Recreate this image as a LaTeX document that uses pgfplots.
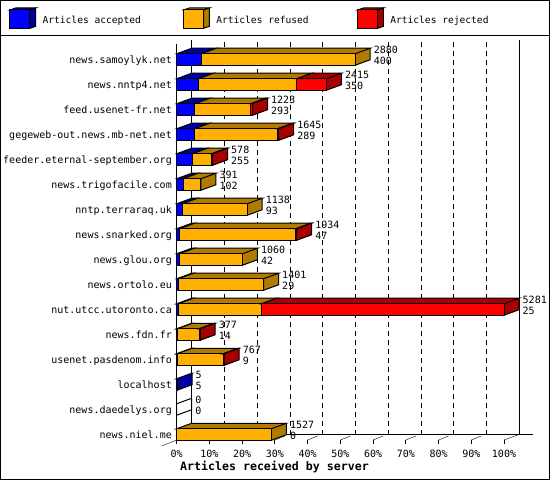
\documentclass[border=0pt]{standalone}
\usepackage{fontspec}
\setmainfont{DejaVu Sans Mono}
\usepackage{pgfplots}
\usepackage{pgfplotstable}
\pgfplotsset{compat=1.18}

\definecolor{accfront}{HTML}{0000FF}
\definecolor{accside}{HTML}{0000A0}
\definecolor{reffront}{HTML}{FFB000}
\definecolor{refside}{HTML}{B07B00}
\definecolor{rejfront}{HTML}{FF0000}
\definecolor{rejside}{HTML}{A80000}

% articles per server: accepted, refused, rejected, total offered
\pgfplotstableread{
row acc  ref  rej  total
0   400  2480 0    2880
1   350  1586 479  2415
2   293  900  30   1223
3   289  1341 15   1645
4   255  310  13   578
5   102  289  0    391
6   93   1045 0    1138
7   47   1877 10   1934
8   42   1018 0    1060
9   29   1372 0    1401
10  25   1346 3910 5281
11  14   351  12   377
12  9    743  15   767
13  5    0    0    5
14  0    0    0    0
15  0    1527 0    1527
}\servers

% one piece of a 3-d bar (front, top, right side); its length is \seglen
% articles, one article being 0.061977bp on the x axis
\newdimen\segw
\newdimen\segwd
\newcommand\declaresegment[3]{%
  \pgfdeclareplotmark{#1}{%
    \pgfmathsetlength\segw{\seglen*0.061977bp}%
    \segwd=\segw \advance\segwd by 15bp
    \pgfsetlinewidth{1bp}%
    \pgfsetstrokecolor{black}%
    \pgfsetfillcolor{#3}%
    \pgfpathmoveto{\pgfpoint{0bp}{5.75bp}}%
    \pgfpathlineto{\pgfpoint{\segw}{5.75bp}}%
    \pgfpathlineto{\pgfpoint{\segwd}{11.25bp}}%
    \pgfpathlineto{\pgfpoint{15bp}{11.25bp}}%
    \pgfpathclose
    \pgfpathmoveto{\pgfpoint{\segw}{-5.75bp}}%
    \pgfpathlineto{\pgfpoint{\segwd}{-0.25bp}}%
    \pgfpathlineto{\pgfpoint{\segwd}{11.25bp}}%
    \pgfpathlineto{\pgfpoint{\segw}{5.75bp}}%
    \pgfpathclose
    \pgfusepath{fill,stroke}%
    \pgfsetfillcolor{#2}%
    \pgfpathrectanglecorners{\pgfpoint{0bp}{-5.75bp}}{\pgfpoint{\segw}{5.75bp}}%
    \pgfusepath{fill,stroke}%
  }%
}
\declaresegment{accseg}{accfront}{accside}
\declaresegment{refseg}{reffront}{refside}
\declaresegment{rejseg}{rejfront}{rejside}
\declaresegment{nilseg}{white}{white}

\pgfplotsset{
  segment/.style={only marks, scatter, mark=#1,
    scatter/@pre marker code/.code={}, scatter/@post marker code/.code={}},
  valuelabel/.style={draw=none, mark=none, nodes near coords,
    point meta=explicit symbolic,
    nodes near coords style={anchor=base west, inner sep=0pt, xshift=18.5bp,
      yshift=#1, font=\fontsize{10bp}{12bp}\selectfont}},
}

\begin{document}
\begin{tikzpicture}[line width=1bp]
\begin{axis}[
    x=0.061977bp, y=25bp,
    xmin=0, xmax=5281,
    ymin=-15.22, ymax=0.62,
    clip=false,
    axis x line*=bottom, axis y line*=left,
    x axis line style={draw=none},
    y axis line style={line width=1bp},
    tick align=outside,
    major tick length=4bp,
    xtick={0,528.1,1056.2,1584.3,2112.4,2640.5,3168.6,3696.7,4224.8,4752.9,5281},
    xticklabels={0\%,10\%,20\%,30\%,40\%,50\%,60\%,70\%,80\%,90\%,100\%},
    xtick style={line width=1bp, black},
    ytick={-15,-14,...,0},
    yticklabels={news.niel.me,news.daedelys.org,localhost,usenet.pasdenom.info,
      news.fdn.fr,nut.utcc.utoronto.ca,news.ortolo.eu,news.glou.org,
      news.snarked.org,nntp.terraraq.uk,news.trigofacile.com,
      feeder.eternal-september.org,gegeweb-out.news.mb-net.net,
      feed.usenet-fr.net,news.nntp4.net,news.samoylyk.net},
    ytick style={draw=none},
    tick label style={font=\fontsize{10bp}{12bp}\selectfont, inner sep=0pt},
    xticklabel style={anchor=base, yshift=-13.3bp},
    yticklabel style={anchor=base east, xshift=-0.7bp, yshift=-3.6bp},
    xlabel={Articles received by server},
    xlabel style={at={(axis cs:0,-15.22)}, anchor=base west, inner sep=0pt,
      xshift=3.3bp, yshift=-30.7bp,
      font=\bfseries\fontsize{11.6bp}{13bp}\selectfont},
]
% back wall, floor and dashed grid of the 3-d frame
\draw (axis cs:242,-15) -- (axis cs:242,0.78);
\draw (axis cs:5523,-15) -- (axis cs:5523,0.78);
\draw (axis cs:242,-15) -- (axis cs:5749,-15);
\draw (axis cs:-242,-15.46) -- (axis cs:0,-15.22);
\draw (axis cs:5281,-15.22) -- (axis cs:5523,-15);
\foreach \k in {1,...,9}{
  \edef\temp{\noexpand\draw[dash pattern=on 5bp off 4bp] (axis cs:528.1*\k+242,-15) -- (axis cs:528.1*\k+242,0.78);
    \noexpand\draw (axis cs:528.1*\k,-15.22) -- (axis cs:528.1*\k+161,-15.06);}
  \temp
}

\addplot[segment=accseg, visualization depends on={\thisrow{acc} \as \seglen},
  restrict expr to domain={\thisrow{acc}}{0.5:100000}]
  table[x expr=0, y expr=-\thisrow{row}] {\servers};
\addplot[segment=refseg, visualization depends on={\thisrow{ref} \as \seglen},
  restrict expr to domain={\thisrow{ref}}{0.5:100000}]
  table[x=acc, y expr=-\thisrow{row}] {\servers};
\addplot[segment=rejseg, visualization depends on={\thisrow{rej} \as \seglen},
  restrict expr to domain={\thisrow{rej}}{0.5:100000}]
  table[x expr=\thisrow{acc}+\thisrow{ref}, y expr=-\thisrow{row}] {\servers};
\addplot[segment=nilseg, visualization depends on={0 \as \seglen},
  restrict expr to domain={\thisrow{total}}{-1:0.5}]
  table[x expr=0, y expr=-\thisrow{row}] {\servers};

\addplot[valuelabel=6.3bp] table[x=total, y expr=-\thisrow{row}, meta=total] {\servers};
\addplot[valuelabel=-5.3bp] table[x=total, y expr=-\thisrow{row}, meta=acc] {\servers};

\coordinate (O) at (axis cs:0,0);
\end{axis}

% legend and outer frame, in pixel units of the original picture
\begin{scope}[shift={(O)}, xshift=-176.7bp, yshift=59.5bp, x=1bp, y=-1bp]
  \draw (0.5,0.5) rectangle (549.5,479.5);
  \draw (0,35.5) -- (550,35.5);
  \foreach \x/\f/\s/\t in {10/accfront/accside/Articles accepted,
      183.7/reffront/refside/Articles refused,
      357.7/rejfront/rejside/Articles rejected}{
    \filldraw[fill=\s] (\x,10) -- (\x+20,10) -- (\x+25.7,8) -- (\x+5.7,8) -- cycle;
    \filldraw[fill=\s] (\x+20,10) -- (\x+25.7,8) -- (\x+25.7,26.3) -- (\x+20,28.3) -- cycle;
    \filldraw[fill=\f] (\x,10) rectangle (\x+20,28.3);
    \node[anchor=base west, inner sep=0pt, font=\fontsize{9.6bp}{11bp}\selectfont]
      at (\x+32.4,24) {\t};
  }
  \pgfresetboundingbox
  \path[use as bounding box] (0,0) rectangle (550,480);
\end{scope}
\end{tikzpicture}
\end{document}
